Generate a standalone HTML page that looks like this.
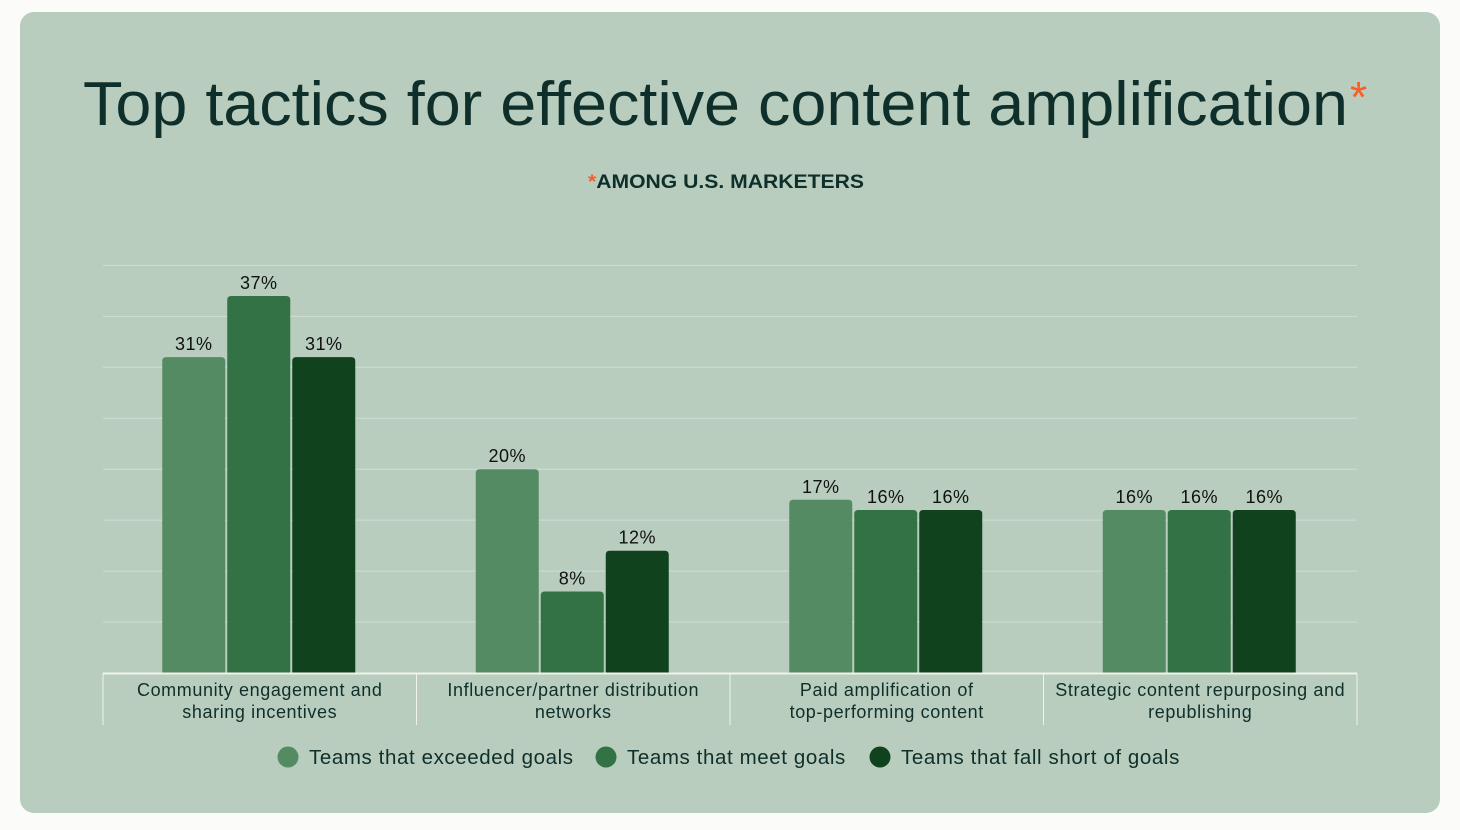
<!DOCTYPE html>
<html><head><meta charset="utf-8"><style>
body{margin:0;width:1460px;height:830px;background:#fbfbf9;font-family:"Liberation Sans",sans-serif;overflow:hidden}
#card{position:absolute;left:20px;top:12px;width:1420px;height:801px;background:#b8cdbe;border-radius:14px}
</style></head><body>
<div id="card"></div>
<svg id="chart" width="1460" height="830" style="position:absolute;left:0;top:0">
<text x="83" y="125" textLength="1265" lengthAdjust="spacingAndGlyphs" font-family="Liberation Sans, sans-serif" font-size="62" fill="#0f2f2a">Top tactics for effective content amplification</text>
<text x="1350" y="112" font-family="Liberation Sans, sans-serif" font-size="44" fill="#ff5a1f">*</text>
<text x="588" y="188" textLength="276" lengthAdjust="spacingAndGlyphs" font-size="19" font-weight="bold" fill="#0f2f2a"><tspan fill="#ff5a1f">*</tspan>AMONG U.S. MARKETERS</text>
<g id="grid"></g><g id="bars"></g><g id="axis"></g><g id="legend"></g>
</svg>
<script>
const categories=[["Community engagement and","sharing incentives"],["Influencer/partner distribution","networks"],["Paid amplification of","top-performing content"],["Strategic content repurposing and","republishing"]];
const seriesNames=["Teams that exceeded goals","Teams that meet goals","Teams that fall short of goals"];
const exceeded=[31,20,17,16];
const meet=[37,8,16,16];
const fallShort=[31,12,16,16];
const gridTicks=[5,10,15,20,25,30,35,40];
const colors=["#558b63","#327244","#0f421d"];
const series=[exceeded,meet,fallShort];
const NS="http://www.w3.org/2000/svg";
const x0=103,x1=1357,base=673,pxPer=10.19;
const y=v=>base-v*pxPer;
const gw=(x1-x0)/categories.length;
const bw=63,gap=2;
function mk(t,a,p){const e=document.createElementNS(NS,t);for(const k in a)e.setAttribute(k,a[k]);p.appendChild(e);return e;}
const grid=document.getElementById('grid'),bars=document.getElementById('bars'),axis=document.getElementById('axis'),legend=document.getElementById('legend');
gridTicks.forEach(t=>{const l=mk('line',{x1:x0,x2:x1,y1:y(t),y2:y(t),stroke:'#cfdfd3','stroke-width':1},grid);

});
categories.forEach((c,i)=>{
 const cx=x0+gw*(i+0.5);
 series.forEach((s,j)=>{
  const bx=cx-1.5*bw-gap+j*(bw+gap)-1;
  const h=s[i]*pxPer;
  const p=mk('path',{d:`M${bx},${base}V${base-h+4}Q${bx},${base-h} ${bx+4},${base-h}H${bx+bw-4}Q${bx+bw},${base-h} ${bx+bw},${base-h+4}V${base}Z`,fill:colors[j]},bars);
  
  
  const t=mk('text',{x:bx+bw/2,y:base-h-7,'text-anchor':'middle','font-size':18,'letter-spacing':0.5,fill:'#111'},bars);t.textContent=s[i]+'%';
  
  
 });
 c.forEach((ln,k)=>{const t=mk('text',{x:cx,y:696+k*22,'text-anchor':'middle','font-size':18,'letter-spacing':0.6,fill:'#0f2f2a'},axis);t.textContent=ln;
 
 });
});
const al=mk('line',{x1:x0,x2:x1,y1:base+0.5,y2:base+0.5,stroke:'#f2f2ea','stroke-width':2},axis);


for(let i=0;i<=categories.length;i++){const xx=x0+gw*i;const l=mk('line',{x1:xx,x2:xx,y1:base,y2:725,stroke:'#f2f2ea','stroke-width':1},axis);

}
const lx=[288,606,880];
seriesNames.forEach((n,j)=>{const g=mk('g',{},legend);


mk('circle',{cx:lx[j],cy:757,r:10.5,fill:colors[j]},g);
const t=mk('text',{x:lx[j]+21,y:764,'font-size':20.5,'letter-spacing':0.6,fill:'#0f2f2a'},g);t.textContent=n;});
</script>
</body></html>
